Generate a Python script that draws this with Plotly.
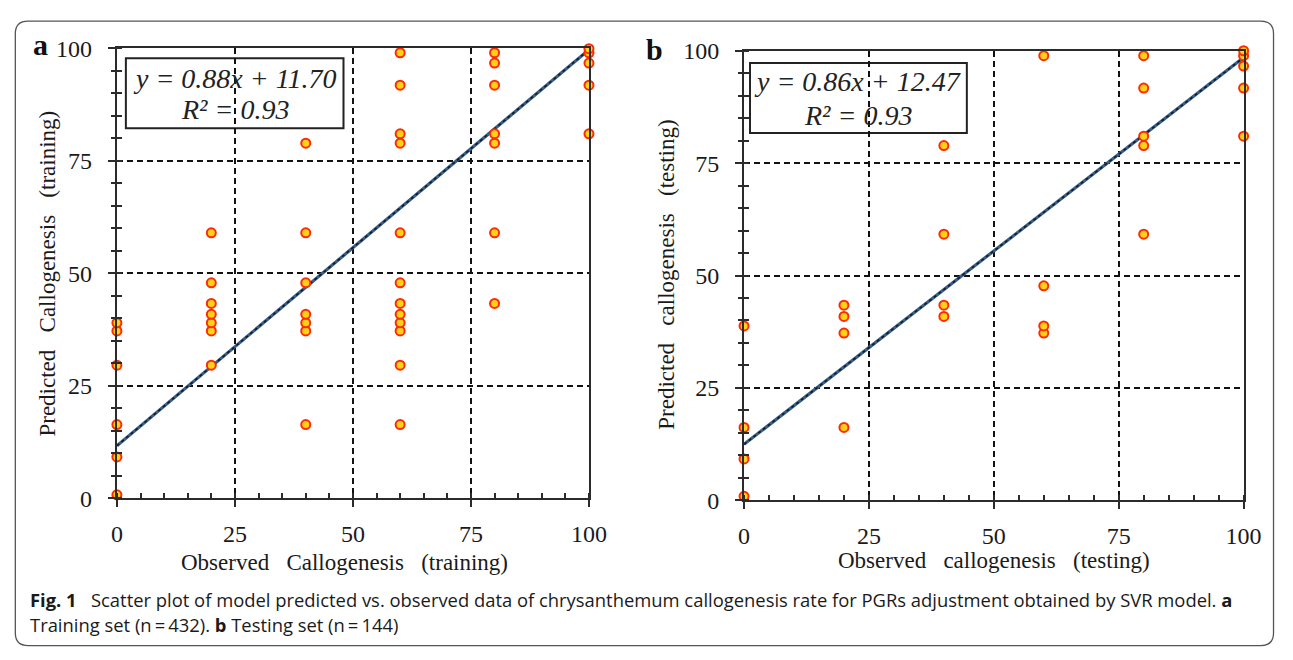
import plotly.graph_objects as go

W, H = 1293, 660

# ---------------- data ----------------
train_observed = [0, 0, 0, 0, 0, 0,
                  20, 20, 20, 20, 20, 20, 20,
                  40, 40, 40, 40, 40, 40, 40,
                  60, 60, 60, 60, 60, 60, 60, 60, 60, 60, 60, 60,
                  80, 80, 80, 80, 80, 80, 80,
                  100, 100, 100, 100, 100]
train_predicted = [0.8, 9.2, 16.4, 29.6, 37.2, 39.0,
                   29.6, 37.2, 39.0, 40.9, 43.3, 47.9, 59.0,
                   16.4, 37.2, 39.0, 40.9, 47.9, 59.0, 78.9,
                   16.4, 29.6, 37.2, 39.0, 40.9, 43.3, 47.9, 59.0, 78.9, 81.0, 91.8, 99.0,
                   43.3, 59.0, 78.9, 81.0, 91.8, 96.7, 99.0,
                   81.0, 91.8, 96.7, 99.0, 99.9]

test_observed = [0, 0, 0, 0,
                 20, 20, 20, 20,
                 40, 40, 40, 40,
                 60, 60, 60, 60,
                 80, 80, 80, 80, 80,
                 100, 100, 100, 100, 100]
test_predicted = [0.9, 9.2, 16.2, 38.8,
                  16.2, 37.2, 40.9, 43.4,
                  40.9, 43.4, 59.2, 78.9,
                  37.2, 38.8, 47.7, 98.9,
                  59.2, 78.9, 81.0, 91.7, 98.9,
                  81.0, 91.7, 96.6, 98.9, 100.0]

fit_train = [0.88, 11.70]   # slope, intercept
fit_test = [0.86, 12.47]
fit_x = [0, 100]

tick_vals = [0, 25, 50, 75, 100]
tick_text = ["0", "25", "50", "75", "100"]

eq_train = ["y = 0.88x + 11.70", "R\u00b2 = 0.93"]
eq_test = ["y = 0.86x + 12.47", "R\u00b2 = 0.93"]

titles = {
    "xa": "Observed\u00a0\u00a0 Callogenesis\u00a0\u00a0 (training)",
    "ya": "Predicted\u00a0\u00a0 Callogenesis\u00a0\u00a0 (training)",
    "xb": "Observed\u00a0\u00a0 callogenesis\u00a0\u00a0 (testing)",
    "yb": "Predicted\u00a0\u00a0 callogenesis\u00a0\u00a0 (testing)",
}
caption1 = ("<b>Fig. 1</b>\u00a0\u00a0 Scatter plot of model predicted vs. observed data of chrysanthemum "
            "callogenesis rate for PGRs adjustment obtained by SVR model. <b>a</b>")
caption2 = "Training set (n\u2009=\u2009432). <b>b</b> Testing set (n\u2009=\u2009144)"

# ---------------- layout geometry (pixels) ----------------
def px_x(p):
    return p / W

def px_y(p):
    return 1 - p / H

SERIF = "Liberation Serif"
AX_COL = "#2b2b2b"

fig = go.Figure()

marker = dict(size=9, color="#ffd21a", line=dict(color="#ff2a00", width=2))


def add_panel(xs, ys, fit, xa, ya):
    lx = fit_x
    ly = [fit[0] * v + fit[1] for v in lx]
    fig.add_trace(go.Scatter(x=lx, y=ly, mode="lines", xaxis=xa, yaxis=ya,
                             line=dict(color="#3a5f86", width=3.2), showlegend=False,
                             hoverinfo="skip", cliponaxis=False))
    fig.add_trace(go.Scatter(x=lx, y=ly, mode="lines", xaxis=xa, yaxis=ya,
                             line=dict(color="#0f1c2b", width=1.6, dash="dot"), showlegend=False,
                             hoverinfo="skip", cliponaxis=False))
    fig.add_trace(go.Scatter(x=xs, y=ys, mode="markers", xaxis=xa, yaxis=ya,
                             marker=marker, showlegend=False, cliponaxis=False))


add_panel(train_observed, train_predicted, fit_train, "x", "y")
add_panel(test_observed, test_predicted, fit_test, "x2", "y2")
# empty traces so the overlay axes (outer half of crossing minor ticks) are drawn
fig.add_trace(go.Scatter(x=[None], y=[None], xaxis="x", yaxis="y3", showlegend=False))
fig.add_trace(go.Scatter(x=[None], y=[None], xaxis="x2", yaxis="y4", showlegend=False))

tickfont = dict(family=SERIF, size=24, color="#1a1a1a")


def xaxis_style(domain, anchor):
    return dict(domain=domain, anchor=anchor, range=[0, 100], tickvals=tick_vals, ticktext=tick_text,
                ticks="outside", ticklen=7, tickwidth=1.5, tickcolor=AX_COL,
                showline=True, linecolor=AX_COL, linewidth=2, mirror=True,
                showgrid=True, gridcolor="#111", gridwidth=1.5, griddash="6px,4px",
                zeroline=False, tickfont=tickfont, ticklabelstandoff=6,
                minor=dict(dtick=5, tick0=0, ticks="inside", ticklen=5, tickwidth=1.5,
                           tickcolor=AX_COL, showgrid=False))


def yaxis_style(domain, anchor):
    return dict(domain=domain, anchor=anchor, range=[0, 100], tickvals=tick_vals, ticktext=tick_text,
                ticks="outside", ticklen=7, tickwidth=1.5, tickcolor=AX_COL,
                showline=True, linecolor=AX_COL, linewidth=2, mirror=True,
                showgrid=True, gridcolor="#111", gridwidth=1.5, griddash="6px,4px",
                zeroline=False, tickfont=tickfont, ticklabelstandoff=11,
                minor=dict(dtick=5, tick0=0, ticks="inside", ticklen=5, tickwidth=1.5,
                           tickcolor=AX_COL, showgrid=False))


def yaxis_overlay(base, anchor):
    return dict(overlaying=base, anchor=anchor, range=[0, 100], showticklabels=False,
                tickvals=tick_vals, ticks="", showline=False, showgrid=False, zeroline=False,
                minor=dict(dtick=5, tick0=0, ticks="outside", ticklen=5, tickwidth=1.5,
                           tickcolor=AX_COL, showgrid=False))


dom_xa = [px_x(113), px_x(594)]
dom_ya = [px_y(505.3), px_y(36.7)]
dom_xb = [px_x(752), px_x(1261)]
dom_yb = [px_y(507.3), px_y(39.3)]

fig.update_layout(
    width=W, height=H,
    margin=dict(l=0, r=0, t=0, b=0),
    paper_bgcolor="white", plot_bgcolor="white",
    xaxis=xaxis_style(dom_xa, "y"),
    yaxis=yaxis_style(dom_ya, "x"),
    xaxis2=xaxis_style(dom_xb, "y2"),
    yaxis2=yaxis_style(dom_yb, "x2"),
    yaxis3=yaxis_overlay("y", "x"),
    yaxis4=yaxis_overlay("y2", "x2"),
    showlegend=False,
)

ann = []
title_font = dict(family=SERIF, size=23, color="#1a1a1a")
ann.append(dict(text=titles["xa"], xref="paper", yref="paper", x=px_x(345), y=px_y(572),
                showarrow=False, font=title_font, xanchor="center", yanchor="middle"))
ann.append(dict(text=titles["xb"], xref="paper", yref="paper", x=px_x(1006.5), y=px_y(570),
                showarrow=False, font=title_font, xanchor="center", yanchor="middle"))
ann.append(dict(text=titles["ya"], xref="paper", yref="paper", x=px_x(42), y=px_y(271),
                showarrow=False, font=title_font, textangle=-90, xanchor="center", yanchor="middle"))
ann.append(dict(text=titles["yb"], xref="paper", yref="paper", x=px_x(673), y=px_y(273),
                showarrow=False, font=title_font, textangle=-90, xanchor="center", yanchor="middle"))
# panel letters
label_font = dict(family=SERIF, size=30, color="#111")
ann.append(dict(text="<b>a</b>", xref="paper", yref="paper", x=px_x(35), y=px_y(33),
                showarrow=False, font=label_font, xanchor="center", yanchor="middle"))
ann.append(dict(text="<b>b</b>", xref="paper", yref="paper", x=px_x(661), y=px_y(38),
                showarrow=False, font=label_font, xanchor="center", yanchor="middle"))

# equation boxes
eq_font = dict(family=SERIF, size=28, color="#222")
for (xr, yr, cx, l1, l2, eq) in [("x", "y", 24.95, 93.3, 86.5, eq_train),
                                  ("x2", "y2", 22.8, 93.1, 85.7, eq_test)]:
    ann.append(dict(text="<i>%s</i>" % eq[0], xref=xr, yref=yr, x=cx, y=l1, showarrow=False,
                    font=eq_font, xanchor="center", yanchor="middle"))
    ann.append(dict(text="<i>%s</i>" % eq[1], xref=xr, yref=yr, x=cx, y=l2, showarrow=False,
                    font=eq_font, xanchor="center", yanchor="middle"))

cap_font = dict(family="Open Sans", size=18.4, color="#1a1a1a")
ann.append(dict(text=caption1, xref="paper", yref="paper", x=px_x(22), y=px_y(611),
                showarrow=False, font=cap_font, xanchor="left", yanchor="middle", align="left"))
ann.append(dict(text=caption2, xref="paper", yref="paper", x=px_x(22), y=px_y(637),
                showarrow=False, font=cap_font, xanchor="left", yanchor="middle", align="left"))

fig.update_layout(annotations=ann)

# shapes: equation boxes and outer rounded frame
shapes = []
shapes.append(dict(type="rect", xref="x", yref="y", x0=1.9, x1=48.0, y0=82.2, y1=97.8,
                   line=dict(color="#222", width=2), fillcolor="white", layer="below"))
shapes.append(dict(type="rect", xref="x2", yref="y2", x0=1.2, x1=44.6, y0=81.7, y1=97.3,
                   line=dict(color="#222", width=2), fillcolor="white", layer="below"))

r = 13
x0, x1 = px_x(9.5), px_x(1291.5)
yt, yb = px_y(8.5), px_y(658.5)
rx, ry = r / W, r / H
path = (f"M {x0+rx},{yt} L {x1-rx},{yt} Q {x1},{yt} {x1},{yt-ry} "
        f"L {x1},{yb+ry} Q {x1},{yb} {x1-rx},{yb} "
        f"L {x0+rx},{yb} Q {x0},{yb} {x0},{yb+ry} "
        f"L {x0},{yt-ry} Q {x0},{yt} {x0+rx},{yt} Z")
shapes.append(dict(type="path", xref="paper", yref="paper", path=path,
                   line=dict(color="#555", width=1.3)))
fig.update_layout(shapes=shapes)

fig.write_html("out.html", config={"displayModeBar": False},
               post_script="document.body.style.margin='0px';document.body.style.overflow='hidden';")
